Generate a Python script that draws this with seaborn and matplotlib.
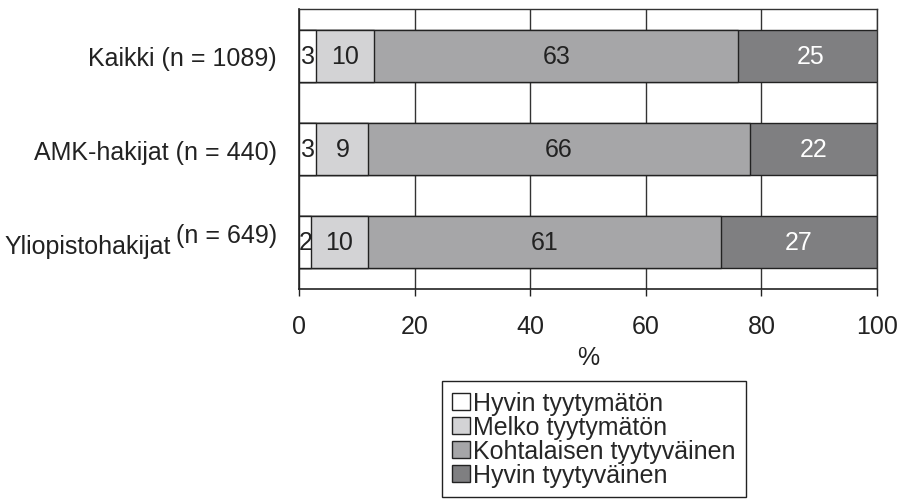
import numpy as np
import pandas as pd
import seaborn as sns
import matplotlib.pyplot as plt
from matplotlib.patches import Patch
from matplotlib.transforms import blended_transform_factory

groups = ["Kaikki", "AMK-hakijat", "Yliopistohakijat"]
group_labels = ["Kaikki (n = 1089)", "AMK-hakijat (n = 440)", ""]
categories = ["Hyvin tyytymätön", "Melko tyytymätön", "Kohtalaisen tyytyväinen", "Hyvin tyytyväinen"]
very_dissatisfied = [3, 3, 2]
fairly_dissatisfied = [10, 9, 10]
moderately_satisfied = [63, 66, 61]
very_satisfied = [25, 22, 27]
colors = ["#ffffff", "#d3d3d5", "#a6a6a8", "#7f7f81"]
text_colors = ["#222222", "#222222", "#222222", "#ffffff"]

series = [very_dissatisfied, fairly_dissatisfied, moderately_satisfied, very_satisfied]
cum = np.cumsum(np.array(series), axis=0)

sns.set_style("white")
plt.rcParams["font.family"] = ["Liberation Sans", "DejaVu Sans"]
FS = 18

fig = plt.figure(figsize=(9, 5.02), dpi=100)
ax = fig.add_axes([299 / 900, 1 - 290 / 502, 578 / 900, 280 / 502])

# draw stacked bars from widest cumulative to narrowest
for i in range(len(categories) - 1, -1, -1):
    df = pd.DataFrame({"group": groups, "value": cum[i]})
    sns.barplot(data=df, x="value", y="group", orient="h", color=colors[i],
                saturation=1, width=0.56, edgecolor="#222222", linewidth=1.0,
                ax=ax, zorder=2)

for i in range(len(categories)):
    for j in range(len(groups)):
        v = series[i][j]
        xpos = cum[i][j] - v / 2
        if i == 0:
            xpos = cum[i][j] / 2 + 0.1
        ax.text(xpos, j, str(v), ha="center", va="center", fontsize=FS,
                color=text_colors[i], zorder=3)

ax.set_xlim(0, 100)
ax.set_ylim(2.5, -0.5)
ax.set_xticks([0, 20, 40, 60, 80, 100])
ax.set_xticklabels(["0", "20", "40", "60", "80", "100"], fontsize=FS, color="#222222")
ax.set_yticks([0, 1, 2])
ax.set_yticklabels(group_labels, fontsize=FS, color="#222222")
ax.set_yticks([-0.5, 0.5, 1.5, 2.5], minor=True)
ax.tick_params(axis="y", which="major", length=0, pad=16)
ax.tick_params(axis="y", which="minor", length=5, width=1, color="#222222", direction="out")
ax.tick_params(axis="x", which="major", length=5, width=1, color="#222222",
               direction="out", pad=13, bottom=True)
ax.set_xlabel("%", fontsize=FS, color="#222222", labelpad=5)
ax.set_ylabel("")

ax.grid(axis="x", color="#333333", linewidth=1.0, zorder=0)
ax.set_axisbelow(True)
for side in ["left", "bottom"]:
    ax.spines[side].set_color("#222222")
    ax.spines[side].set_linewidth(1.2)
for side in ["top", "right"]:
    ax.spines[side].set_color("#333333")
    ax.spines[side].set_linewidth(1.0)

# third group label with raised "(n = 649)"
tr = blended_transform_factory(fig.transFigure, ax.transData)
ax.text(277 / 900, 1.92, "(n = 649)", transform=tr, ha="right", va="center",
        fontsize=FS, color="#222222")
ax.text(171 / 900, 2.04, "Yliopistohakijat", transform=tr, ha="right", va="center",
        fontsize=FS, color="#222222")

handles = [Patch(facecolor=c, edgecolor="#222222", linewidth=1.0) for c in colors]
fig.legend(handles, categories, loc="upper left",
           bbox_to_anchor=(442 / 900, 1 - 382 / 502), fontsize=FS,
           frameon=True, fancybox=False, edgecolor="#222222", framealpha=1,
           handlelength=0.7, handleheight=0.7, handletextpad=0.15,
           labelspacing=0.0, borderpad=0.4, borderaxespad=0)

fig.savefig("out.png", dpi=100)
